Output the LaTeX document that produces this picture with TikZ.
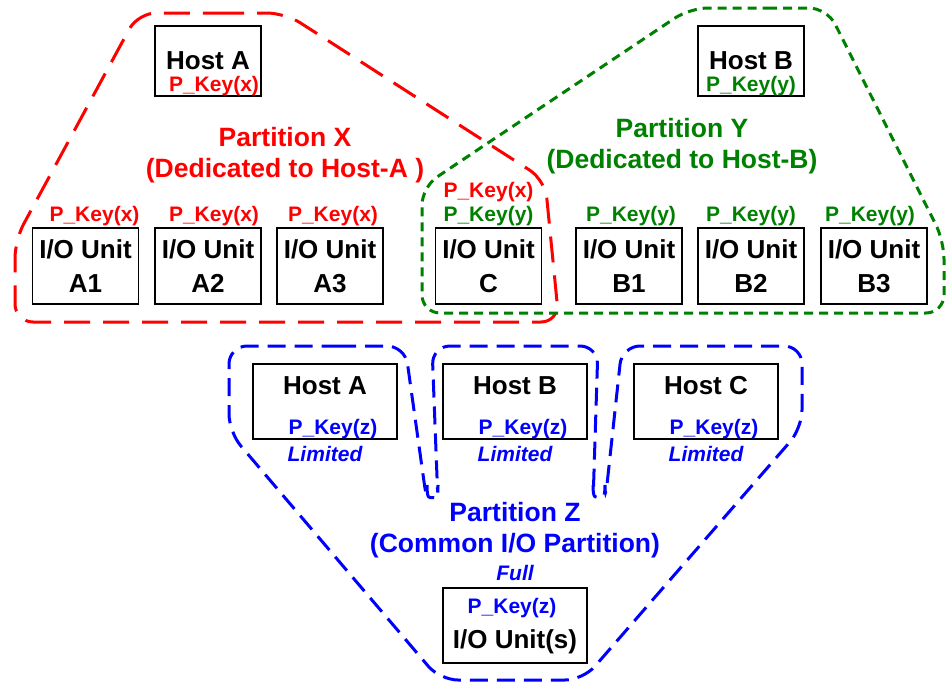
\documentclass[tikz,border=0pt]{standalone}
\usepackage{fontspec}
\setmainfont{Liberation Sans}
\usetikzlibrary{positioning}
\definecolor{partRed}{RGB}{255,0,0}
\definecolor{partGreen}{RGB}{0,128,0}
\definecolor{partBlue}{RGB}{0,0,255}
\newcommand\boxfont{\fontsize{26}{34}\selectfont\bfseries}
\newcommand\keyfont{\fontsize{21}{24}\selectfont\bfseries}

\begin{document}
\begin{tikzpicture}[x=1pt,y=-1pt,
    box/.style={draw,line width=1.5pt,align=center,font=\boxfont,inner sep=0pt},
    unit/.style={box,minimum width=106pt,minimum height=76pt},
    host/.style={box,minimum width=106pt,minimum height=70pt},
    zhost/.style={box,minimum width=144pt,minimum height=75pt,text depth=32pt},
    key/.style={font=\keyfont,inner sep=0pt},
    limit/.style={key,font=\keyfont\itshape,text=partBlue},
    title/.style={font=\fontsize{26.5}{31}\selectfont\bfseries,align=center},
    part/.style={line width=3pt,rounded corners=18pt}
  ]
  \useasboundingbox (0,0) rectangle (951,683);

  % partitions X and Y
  \node[host] (hosta) at (208,61) {Host A};
  \node[host] (hostb) at (751,61) {Host B};
  \node[key,text=partRed,above=1pt of hosta.south,xshift=6pt] (kha) {P\_Key(x)};
  \node[key,text=partGreen,above=1pt of hostb.south] (khb) {P\_Key(y)};

  \node[unit] (a1) at (85.5,266) {I/O Unit\\A1};
  \node[unit] (a2) at (208,266) {I/O Unit\\A2};
  \node[unit] (a3) at (330,266) {I/O Unit\\A3};
  \node[unit] (c) at (488.5,266) {I/O Unit\\C};
  \node[unit] (b1) at (629,266) {I/O Unit\\B1};
  \node[unit] (b2) at (751,266) {I/O Unit\\B2};
  \node[unit] (b3) at (874,266) {I/O Unit\\B3};

  \node[key,text=partRed,above=1pt of a1,xshift=9pt] (ka1) {P\_Key(x)};
  \node[key,text=partRed,above=1pt of a2,xshift=6pt] (ka2) {P\_Key(x)};
  \node[key,text=partRed,above=1pt of a3,xshift=3pt] (ka3) {P\_Key(x)};
  \node[key,text=partGreen,above=1pt of c] (kcy) {P\_Key(y)};
  \node[key,text=partRed,above=4pt of kcy] (kcx) {P\_Key(x)};
  \node[key,text=partGreen,above=1pt of b1,xshift=2pt] (kb1) {P\_Key(y)};
  \node[key,text=partGreen,above=1pt of b2] (kb2) {P\_Key(y)};
  \node[key,text=partGreen,above=1pt of b3,xshift=-4pt] (kb3) {P\_Key(y)};

  \node[title,text=partRed] (tx) at (285,155) {Partition X\\(Dedicated to Host-A )};
  \node[title,text=partGreen] (ty) at (682,146) {Partition Y\\(Dedicated to Host-B)};

  \draw[part,partRed,dash pattern=on 26pt off 13pt]
    (200,13) -- (285,13) -- (545,180) -- (559,322) -- (15,322) -- (15,240) -- (138,13) -- cycle;
  \draw[part,partGreen,dash pattern=on 9pt off 6pt]
    (750,8) -- (827,8) -- (944,241) -- (944,313) -- (422,313) -- (422,187) -- (690,8) -- cycle;

  % partition Z
  \node[zhost] (zha) at (325,401.5) {Host A};
  \node[zhost] (zhb) at (515,401.5) {Host B};
  \node[zhost] (zhc) at (706,401.5) {Host C};
  \node[key,text=partBlue,above=1pt of zha.south,xshift=8pt] (kza) {P\_Key(z)};
  \node[key,text=partBlue,above=1pt of zhb.south,xshift=8pt] (kzb) {P\_Key(z)};
  \node[key,text=partBlue,above=1pt of zhc.south,xshift=8pt] (kzc) {P\_Key(z)};
  \node[limit,below=6pt of zha] (lza) {Limited};
  \node[limit,below=6pt of zhb] (lzb) {Limited};
  \node[limit,below=6pt of zhc] (lzc) {Limited};

  \node[title,text=partBlue] (tz) at (515,530) {Partition Z\\(Common I/O Partition)};
  \node[box,minimum width=144pt,minimum height=75pt,text height=52pt] (iou) at (515,625.5) {I/O Unit(s)};
  \node[key,text=partBlue,below=11pt of iou.north,xshift=-3pt] (kiou) {P\_Key(z)};
  \node[limit,above=6pt of iou] (full) {Full};

  \draw[part,partBlue,dash pattern=on 18pt off 9pt]
    (320,346) -- (405,346) -- (427,503) arc[start angle=180,end angle=0,radius=5.5pt]
    -- (432,346) -- (598,346) -- (593,503) arc[start angle=180,end angle=0,radius=6pt]
    -- (622,346) -- (802,346) -- (802,428) -- (583,680) -- (440,680) -- (229,432) -- (229,346) -- cycle;
\end{tikzpicture}
\end{document}
